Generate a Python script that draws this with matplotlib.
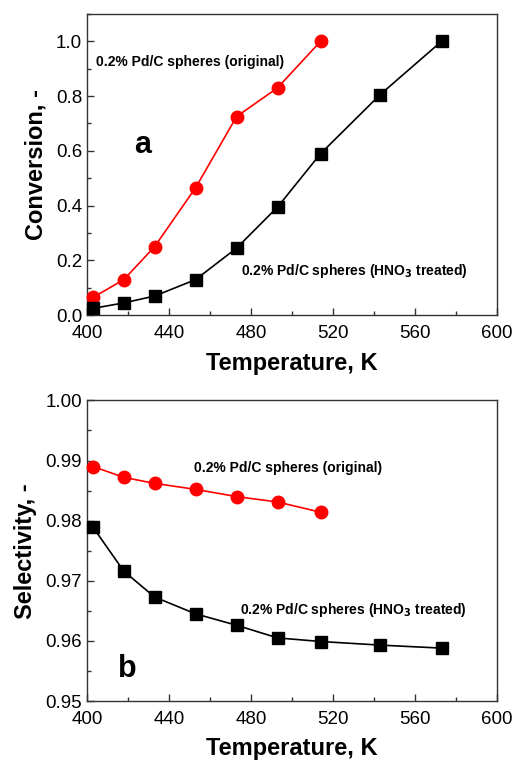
import numpy as np
import matplotlib.pyplot as plt
from matplotlib.ticker import MultipleLocator

plt.rcParams['font.family'] = ['Liberation Sans', 'DejaVu Sans']

# data
temp_orig = [403, 418, 433, 453, 473, 493, 514]
temp_hno3 = [403, 418, 433, 453, 473, 493, 514, 543, 573]
conv_orig = [0.065, 0.13, 0.25, 0.465, 0.725, 0.83, 1.0]
conv_hno3 = [0.025, 0.045, 0.07, 0.13, 0.245, 0.395, 0.59, 0.805, 1.0]
sel_orig = [0.9890, 0.9872, 0.9862, 0.9852, 0.9840, 0.9831, 0.9814]
sel_hno3 = [0.9789, 0.9716, 0.9673, 0.9645, 0.9626, 0.9605, 0.9599, 0.9593, 0.9588]

label_orig = '0.2% Pd/C spheres (original)'
label_hno3 = r'0.2% Pd/C spheres (HNO$_\mathbf{3}$ treated)'

fig = plt.figure(figsize=(5.14, 7.67), dpi=100)
ax1 = fig.add_axes([0.169, 0.589, 0.798, 0.393])
ax2 = fig.add_axes([0.169, 0.086, 0.798, 0.392])


def style(ax):
    ax.set_xlim(400, 600)
    ax.xaxis.set_major_locator(MultipleLocator(40))
    ax.xaxis.set_minor_locator(MultipleLocator(20))
    ax.tick_params(which='both', direction='in', top=False, right=False,
                   labelsize=13.5, color='#333333')
    ax.tick_params(which='major', length=5, width=1)
    ax.tick_params(which='minor', length=3, width=1)
    ax.tick_params(axis='x', pad=7)
    for sp in ax.spines.values():
        sp.set_color('#333333')
        sp.set_linewidth(1.0)
    ax.set_xlabel('Temperature, K', fontsize=17, fontweight='bold', labelpad=7)


# (a) conversion
ax1.plot(temp_orig, conv_orig, '-o', color='red', mfc='red', mec='red',
         ms=9, lw=1.2, clip_on=False, zorder=3)
ax1.plot(temp_hno3, conv_hno3, '-s', color='black', ms=8, lw=1.2,
         clip_on=False, zorder=3)
style(ax1)
ax1.set_ylim(0, 1.1)
ax1.yaxis.set_major_locator(MultipleLocator(0.2))
ax1.yaxis.set_minor_locator(MultipleLocator(0.1))
ax1.yaxis.set_major_formatter(plt.FormatStrFormatter('%.1f'))
ax1.set_ylabel('Conversion, -', fontsize=17, fontweight='bold', labelpad=6)
ax1.text(404.5, 0.925, label_orig, fontsize=10, fontweight='bold', va='center')
ax1.text(475, 0.163, label_hno3, fontsize=10, fontweight='bold', va='center')
ax1.text(427, 0.62, 'a', fontsize=22, fontweight='bold', ha='center', va='center')

# (b) selectivity
ax2.plot(temp_orig, sel_orig, '-o', color='red', mfc='red', mec='red',
         ms=9, lw=1.2, clip_on=False, zorder=3)
ax2.plot(temp_hno3, sel_hno3, '-s', color='black', ms=8, lw=1.2,
         clip_on=False, zorder=3)
style(ax2)
ax2.set_ylim(0.95, 1.0)
ax2.yaxis.set_major_locator(MultipleLocator(0.01))
ax2.yaxis.set_minor_locator(MultipleLocator(0.005))
ax2.yaxis.set_major_formatter(plt.FormatStrFormatter('%.2f'))
ax2.set_ylabel('Selectivity, -', fontsize=17, fontweight='bold', labelpad=6)
ax2.text(452, 0.9887, label_orig, fontsize=10, fontweight='bold', va='center')
ax2.text(474.5, 0.9651, label_hno3, fontsize=10, fontweight='bold', va='center')
ax2.text(419.5, 0.9553, 'b', fontsize=22, fontweight='bold', ha='center', va='center')

fig.savefig('out.png', dpi=100)
